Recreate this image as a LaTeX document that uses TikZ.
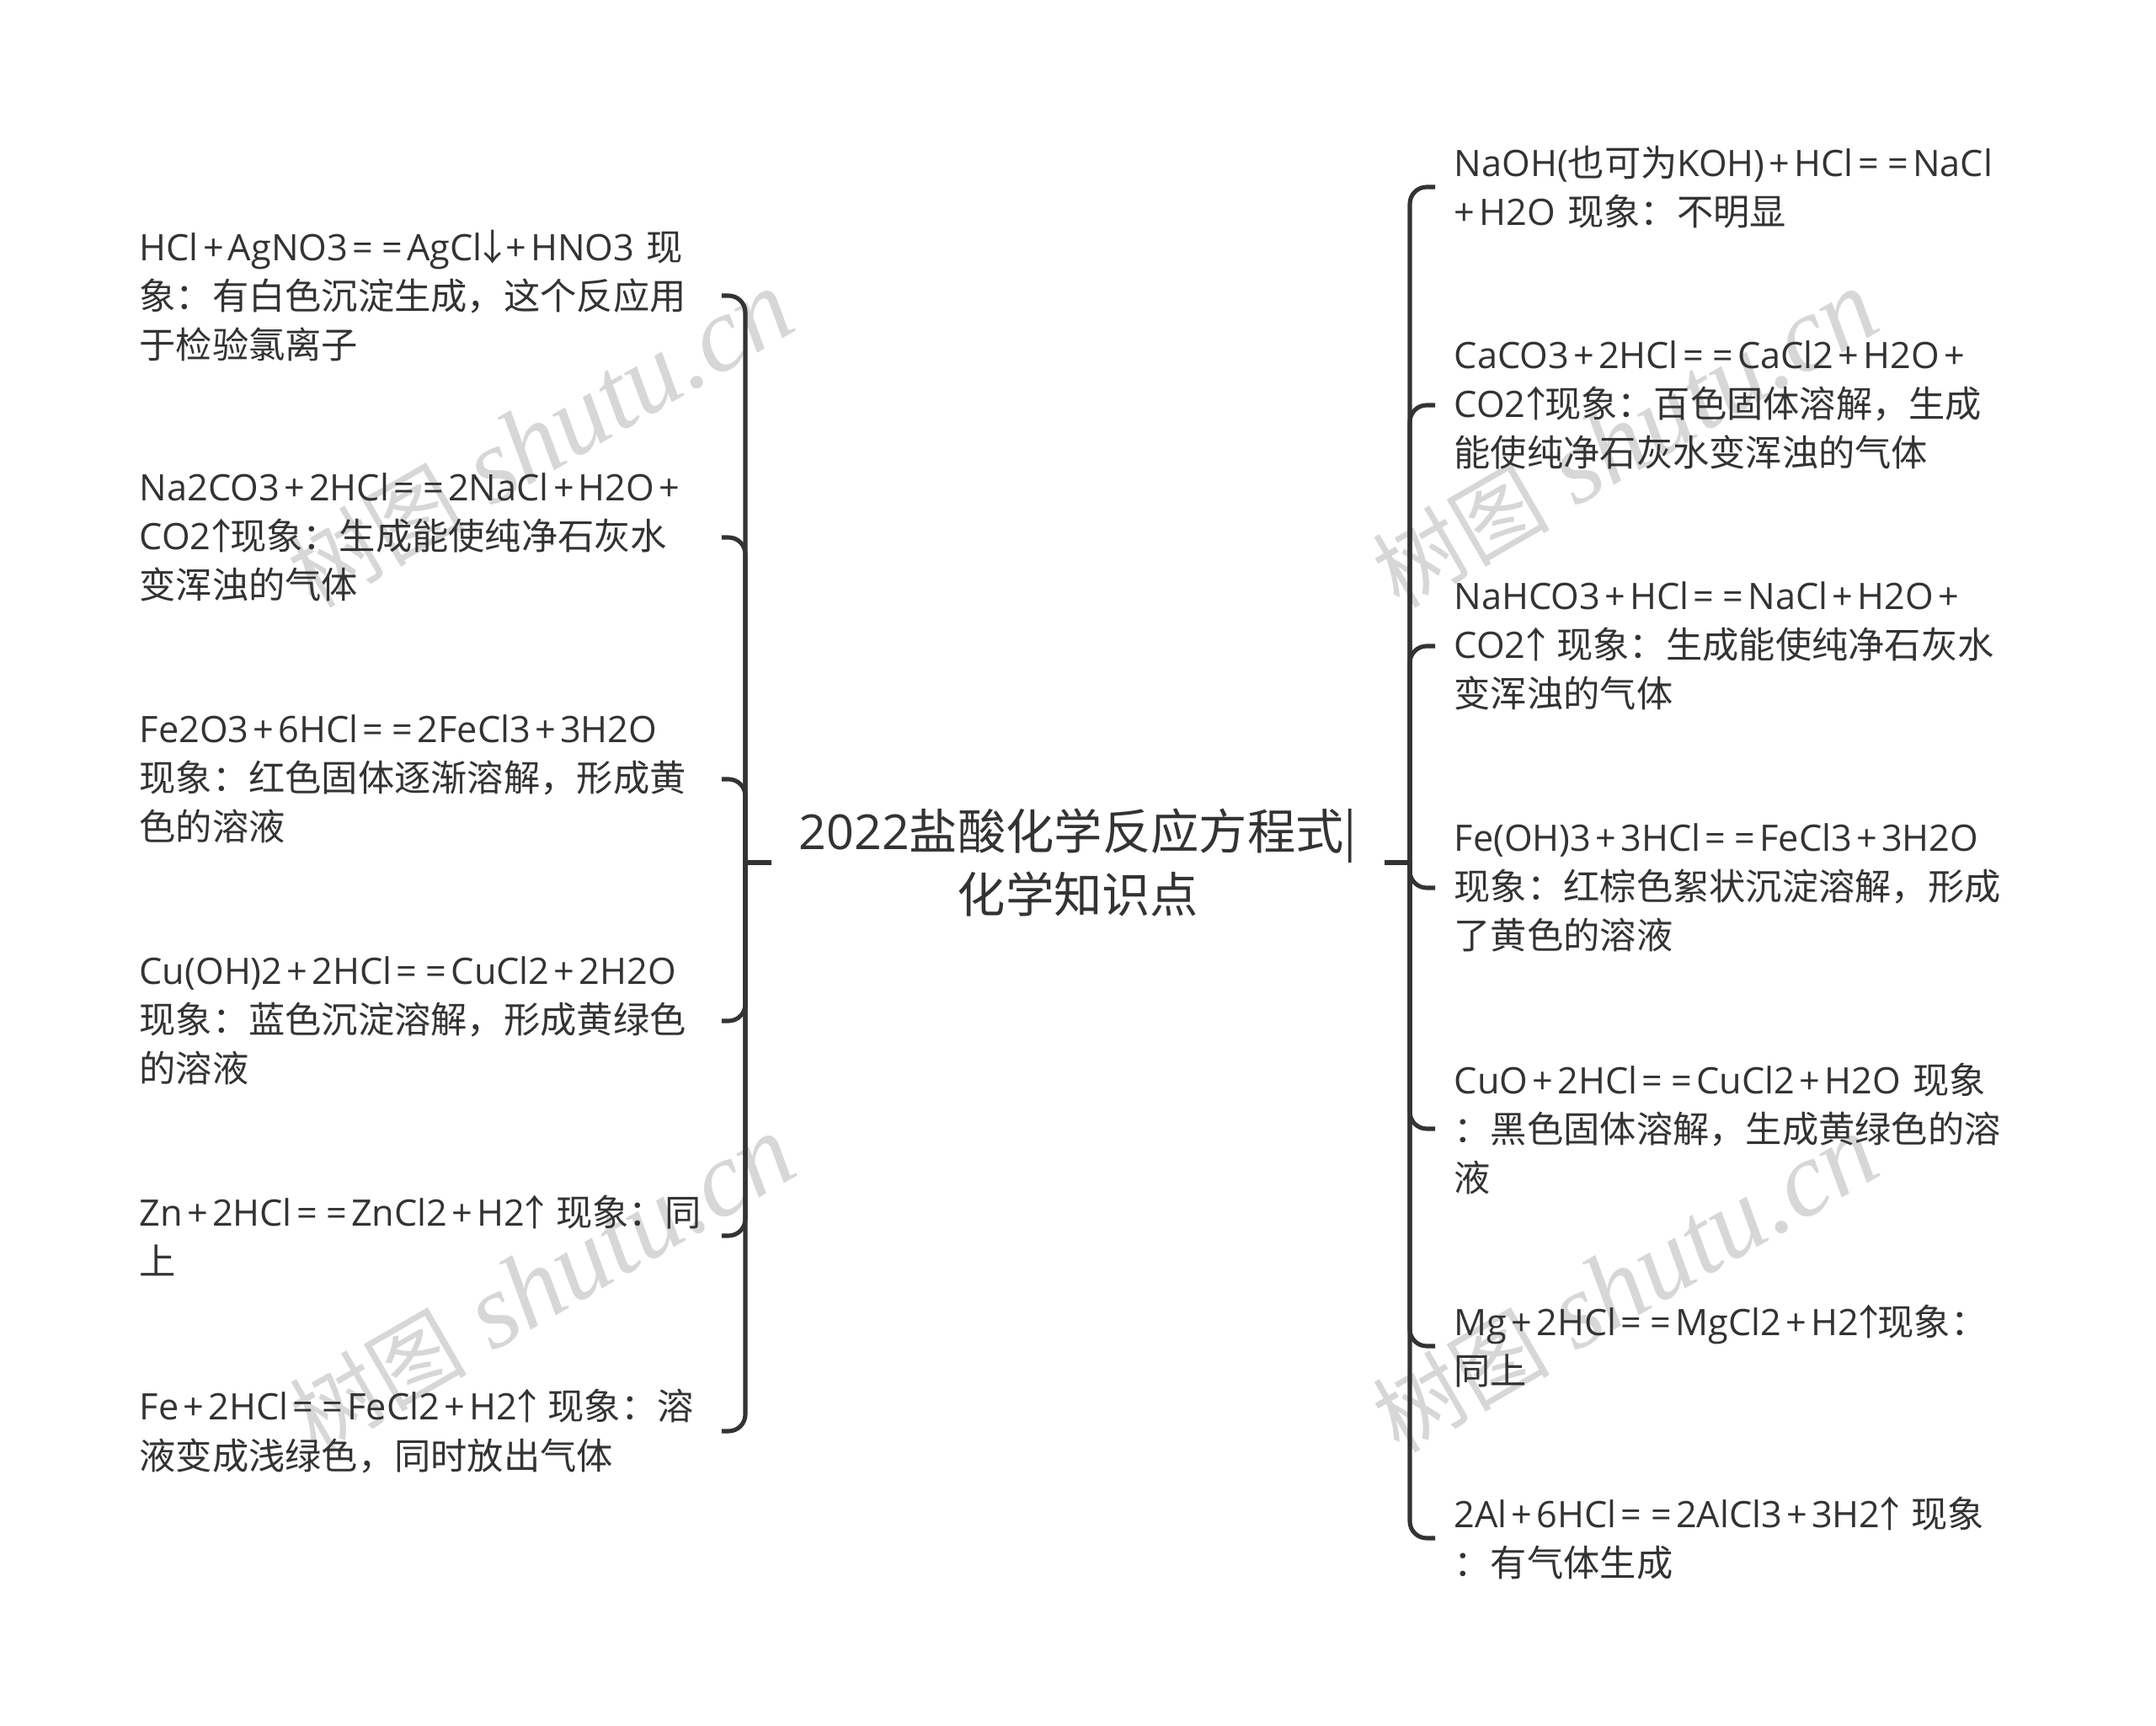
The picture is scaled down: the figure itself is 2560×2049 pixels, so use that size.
\documentclass[tikz,border=0pt]{standalone}
\usepackage{fontspec}
\setmainfont{Open Sans}
\newfontfamily\cjk{Noto Sans CJK SC}
\newfontfamily\markfont{Liberation Serif Italic}
\newcommand{\pls}{\kern.12em+\kern.12em}
\newcommand{\eqs}{\kern.12em=\kern.12em}
\newcommand{\arrup}{\kern-.22em{\cjk ↑}\kern-.26em}
\newcommand{\arrdn}{\kern-.22em{\cjk ↓}\kern-.26em}
\newcommand{\wmark}{{\cjk\fontsize{30}{30}\selectfont 树图}\kern.3cm{\markfont\fontsize{36}{36}\selectfont shutu.cn}}
\definecolor{ink}{HTML}{333333}
\definecolor{markgray}{HTML}{D7D7D7}
\tikzset{
  leftitem/.style={anchor=west,inner sep=0pt,text width=6.9cm,align=left,text=ink,font=\fontsize{12.3}{16.5}\selectfont},
  rightitem/.style={anchor=west,inner ysep=0pt,inner xsep=0.22cm,text width=7.4cm,align=left,text=ink,font=\fontsize{12.3}{16.5}\selectfont},
  rootitem/.style={inner sep=0pt,minimum width=7.26cm,align=center,text=ink,font=\fontsize{16.3}{21.4}\selectfont},
  link/.style={draw=ink,line width=1.45pt,rounded corners=0.2cm},
  watermark/.style={rotate=30,text=markgray},
}
\begin{document}
\begin{tikzpicture}[x=0.01cm,y=-0.01cm]
\useasboundingbox (0,0) rectangle (2560,2049) ;
% watermarks
\node (markA) [watermark] at (642,522) {\wmark} ;
\node (markB) [watermark] at (644,1525) {\wmark} ;
\node (markC) [watermark] at (1930,522) {\wmark} ;
\node (markD) [watermark] at (1930,1525) {\wmark} ;
% root
\node (root) [rootitem] at (1280,1024) {2022{\cjk 盐酸化学反应方程式|}\\{\cjk 化学知识点}} ;
\coordinate (jointL) at (885,1024) ;
\coordinate (jointR) at (1674,1024) ;
% left side
\node (left1) [leftitem] at (165,351) {HCl\pls AgNO3\eqs\eqs AgCl\arrdn\pls HNO3 {\cjk 现}\\{\cjk 象：有白色沉淀生成，这个反应用}\\{\cjk 于检验氯离子}} ;
\node (left2) [leftitem] at (165,638) {Na2CO3\pls 2HCl\eqs\eqs 2NaCl\pls H2O\pls\\CO2\arrup{\cjk 现象：生成能使纯净石灰水}\\{\cjk 变浑浊的气体}} ;
\node (left3) [leftitem] at (165,925) {Fe2O3\pls 6HCl\eqs\eqs 2FeCl3\pls 3H2O\\{\cjk 现象：红色固体逐渐溶解，形成黄}\\{\cjk 色的溶液}} ;
\node (left4) [leftitem] at (165,1212) {Cu(OH)2\pls 2HCl\eqs\eqs CuCl2\pls 2H2O\\{\cjk 现象：蓝色沉淀溶解，形成黄绿色}\\{\cjk 的溶液}} ;
\node (left5) [leftitem] at (165,1467) {Zn\pls 2HCl\eqs\eqs ZnCl2\pls H2\arrup{} {\cjk 现象：同}\\{\cjk 上}} ;
\node (left6) [leftitem] at (165,1699) {Fe\pls 2HCl\eqs\eqs FeCl2\pls H2\arrup{} {\cjk 现象：溶}\\{\cjk 液变成浅绿色，同时放出气体}} ;
% right side
\node (right1) [rightitem] at (1704,222) {NaOH({\cjk 也可为}KOH)\pls HCl\eqs\eqs NaCl\\+\kern.12em H2O {\cjk 现象：不明显}} ;
\node (right2) [rightitem] at (1704,481) {CaCO3\pls 2HCl\eqs\eqs CaCl2\pls H2O\pls\\CO2\arrup{\cjk 现象：百色固体溶解，生成}\\{\cjk 能使纯净石灰水变浑浊的气体}} ;
\node (right3) [rightitem] at (1704,767) {NaHCO3\pls HCl\eqs\eqs NaCl\pls H2O\pls\\CO2\arrup{} {\cjk 现象：生成能使纯净石灰水}\\{\cjk 变浑浊的气体}} ;
\node (right4) [rightitem] at (1704,1054) {Fe(OH)3\pls 3HCl\eqs\eqs FeCl3\pls 3H2O\\{\cjk 现象：红棕色絮状沉淀溶解，形成}\\{\cjk 了黄色的溶液}} ;
\node (right5) [rightitem] at (1704,1340) {CuO\pls 2HCl\eqs\eqs CuCl2\pls H2O {\cjk 现象}\\{\cjk ：黑色固体溶解，生成黄绿色的溶}\\{\cjk 液}} ;
\node (right6) [rightitem] at (1704,1598) {Mg\pls 2HCl\eqs\eqs MgCl2\pls H2\arrup{\cjk 现象：}\\{\cjk 同上}} ;
\node (right7) [rightitem] at (1704,1826) {2Al\pls 6HCl\eqs\eqs 2AlCl3\pls 3H2\arrup{} {\cjk 现象}\\{\cjk ：有气体生成}} ;
% connectors
\draw [link] (root.west) -- (jointL) ;
\draw [link] (root.east) -- (jointR) ;
\draw [link] (left1.east) -| (jointL) ;
\draw [link] (left2.east) -| (jointL) ;
\draw [link] (left3.east) -| (jointL) ;
\draw [link] (left4.east) -| (jointL) ;
\draw [link] (left5.east) -| (jointL) ;
\draw [link] (left6.east) -| (jointL) ;
\draw [link] (right1.west) -| (jointR) ;
\draw [link] (right2.west) -| (jointR) ;
\draw [link] (right3.west) -| (jointR) ;
\draw [link] (right4.west) -| (jointR) ;
\draw [link] (right5.west) -| (jointR) ;
\draw [link] (right6.west) -| (jointR) ;
\draw [link] (right7.west) -| (jointR) ;
\end{tikzpicture}
\end{document}
